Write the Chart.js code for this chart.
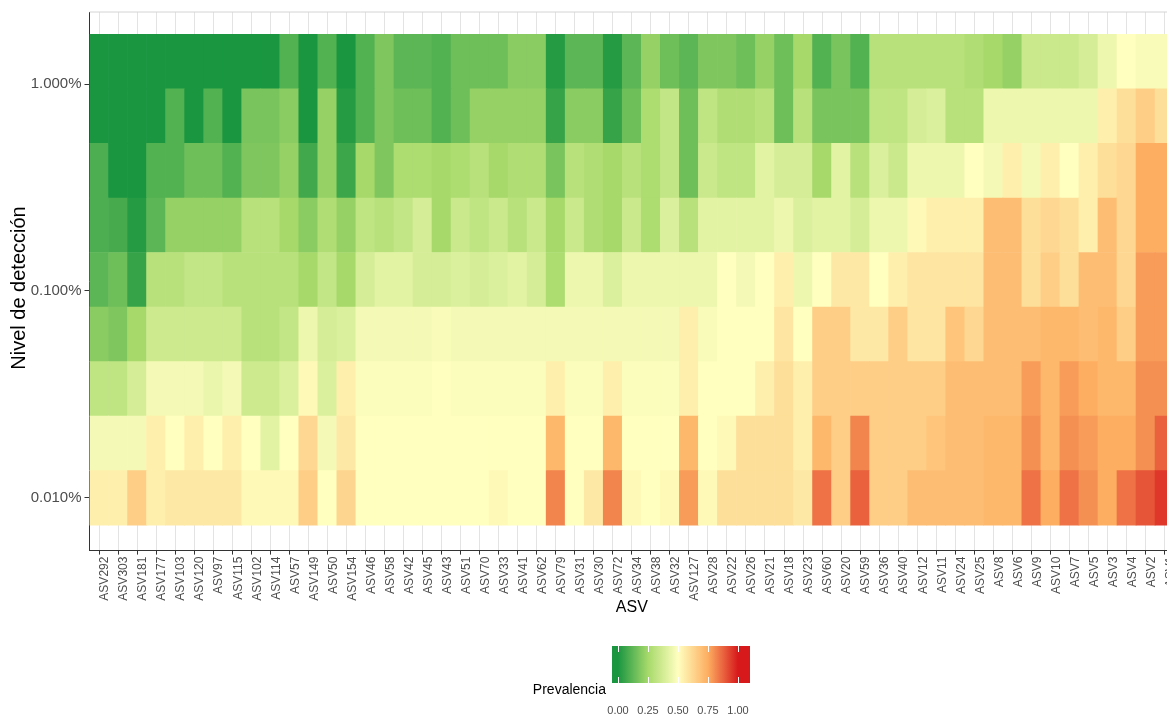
<!DOCTYPE html>
<html>
<head>
<meta charset="utf-8">
<script src="https://cdn.jsdelivr.net/npm/chart.js@4.4.1/dist/chart.umd.min.js"></script>
<style>
  html, body { margin: 0; padding: 0; background: #ffffff; overflow: hidden; }
  #wrap { width: 1181px; height: 719px; }
</style>
</head>
<body>
<div id="wrap"><canvas id="core" width="1181" height="719"></canvas></div>
<script>
// ASVs along the x axis
const asvLabels = [
  'ASV292','ASV303','ASV181','ASV177','ASV103','ASV120','ASV97','ASV115','ASV102','ASV114',
  'ASV57','ASV149','ASV50','ASV154','ASV46','ASV58','ASV42','ASV45','ASV43','ASV51',
  'ASV70','ASV33','ASV41','ASV62','ASV79','ASV31','ASV30','ASV72','ASV34','ASV38',
  'ASV32','ASV127','ASV28','ASV22','ASV26','ASV21','ASV18','ASV23','ASV60','ASV20',
  'ASV59','ASV36','ASV40','ASV12','ASV11','ASV24','ASV25','ASV8','ASV6','ASV9',
  'ASV10','ASV7','ASV5','ASV3','ASV4','ASV2','ASV1'
];

// Detection thresholds (relative abundance), lowest first
const detectionLevels = [0.0001, 0.0001835, 0.0003366, 0.0006176, 0.001133, 0.002079, 0.003814, 0.006998, 0.01284];

// Prevalence of each ASV at each detection threshold
const prevAt0 = [
  0.55,0.55,0.65,0.55,0.57,0.57,0.57,0.57,0.52,0.52,
  0.52,0.65,0.50,0.63,0.50,0.50,0.50,0.50,0.50,0.50,
  0.50,0.52,0.50,0.50,0.82,0.50,0.57,0.82,0.52,0.50,
  0.52,0.78,0.52,0.60,0.60,0.60,0.60,0.57,0.85,0.65,
  0.88,0.65,0.65,0.70,0.70,0.70,0.70,0.72,0.72,0.85,
  0.75,0.85,0.80,0.75,0.85,0.90,0.95
];
const prevAt1 = [
  0.47,0.47,0.47,0.55,0.50,0.55,0.50,0.55,0.50,0.42,
  0.50,0.62,0.47,0.57,0.50,0.50,0.50,0.50,0.50,0.50,
  0.50,0.50,0.50,0.50,0.72,0.50,0.50,0.72,0.50,0.50,
  0.50,0.72,0.50,0.52,0.60,0.60,0.60,0.55,0.72,0.65,
  0.82,0.65,0.65,0.65,0.68,0.70,0.70,0.72,0.72,0.80,
  0.72,0.80,0.78,0.75,0.75,0.80,0.88
];
const prevAt2 = [
  0.32,0.32,0.38,0.47,0.47,0.47,0.44,0.47,0.36,0.36,
  0.40,0.52,0.40,0.55,0.49,0.49,0.49,0.49,0.50,0.49,
  0.49,0.49,0.49,0.49,0.55,0.49,0.49,0.55,0.49,0.49,
  0.49,0.55,0.50,0.50,0.50,0.55,0.60,0.55,0.65,0.65,
  0.65,0.65,0.65,0.65,0.65,0.70,0.70,0.70,0.70,0.78,
  0.72,0.78,0.75,0.72,0.72,0.80,0.80
];
const prevAt3 = [
  0.20,0.18,0.25,0.36,0.36,0.36,0.36,0.36,0.30,0.30,
  0.33,0.45,0.38,0.40,0.47,0.47,0.47,0.47,0.48,0.47,
  0.47,0.47,0.47,0.47,0.47,0.47,0.47,0.47,0.47,0.47,
  0.47,0.55,0.48,0.50,0.50,0.50,0.58,0.50,0.65,0.65,
  0.57,0.57,0.65,0.58,0.58,0.68,0.62,0.70,0.70,0.70,
  0.72,0.72,0.70,0.72,0.65,0.78,0.78
];
const prevAt4 = [
  0.12,0.15,0.05,0.30,0.30,0.33,0.33,0.30,0.30,0.30,
  0.30,0.25,0.33,0.25,0.38,0.42,0.42,0.38,0.38,0.40,
  0.38,0.40,0.42,0.38,0.27,0.45,0.45,0.40,0.45,0.45,
  0.45,0.45,0.45,0.50,0.47,0.50,0.55,0.45,0.50,0.57,
  0.57,0.50,0.55,0.58,0.58,0.58,0.58,0.70,0.70,0.60,
  0.65,0.60,0.70,0.70,0.62,0.78,0.78
];
const prevAt5 = [
  0.09,0.08,0.02,0.12,0.22,0.22,0.22,0.22,0.30,0.30,
  0.25,0.20,0.28,0.22,0.32,0.30,0.33,0.38,0.25,0.35,
  0.32,0.35,0.30,0.35,0.25,0.35,0.28,0.25,0.35,0.27,
  0.40,0.30,0.42,0.42,0.42,0.42,0.45,0.40,0.42,0.42,
  0.38,0.45,0.45,0.52,0.55,0.55,0.55,0.70,0.70,0.60,
  0.62,0.60,0.55,0.70,0.62,0.75,0.75
];
const prevAt6 = [
  0.09,0.00,0.00,0.10,0.10,0.15,0.15,0.10,0.18,0.18,
  0.22,0.07,0.22,0.06,0.25,0.18,0.27,0.27,0.25,0.27,
  0.30,0.25,0.28,0.28,0.17,0.30,0.28,0.25,0.30,0.27,
  0.33,0.15,0.35,0.32,0.32,0.42,0.38,0.38,0.25,0.42,
  0.30,0.40,0.35,0.45,0.45,0.45,0.50,0.47,0.55,0.47,
  0.55,0.50,0.55,0.60,0.62,0.75,0.75
];
const prevAt7 = [
  0.00,0.00,0.00,0.00,0.10,0.00,0.10,0.00,0.17,0.17,
  0.20,0.00,0.22,0.02,0.10,0.18,0.15,0.15,0.10,0.15,
  0.22,0.22,0.22,0.22,0.05,0.20,0.20,0.05,0.15,0.27,
  0.33,0.15,0.32,0.28,0.28,0.30,0.15,0.30,0.17,0.17,
  0.17,0.32,0.32,0.38,0.40,0.30,0.30,0.45,0.45,0.45,
  0.45,0.45,0.45,0.55,0.60,0.65,0.60
];
const prevAt8 = [
  0.00,0.00,0.00,0.00,0.00,0.00,0.00,0.00,0.00,0.00,
  0.10,0.00,0.10,0.00,0.10,0.18,0.12,0.12,0.10,0.15,
  0.15,0.15,0.20,0.20,0.02,0.12,0.12,0.02,0.12,0.22,
  0.15,0.12,0.18,0.18,0.15,0.22,0.15,0.25,0.10,0.17,
  0.10,0.30,0.30,0.30,0.30,0.30,0.28,0.25,0.22,0.35,
  0.35,0.35,0.38,0.45,0.50,0.48,0.48
];
const prevalenceByLevel = [prevAt0, prevAt1, prevAt2, prevAt3, prevAt4, prevAt5, prevAt6, prevAt7, prevAt8];

// Axis breaks and colour bar
const yTickValues = [0.0001, 0.001, 0.01];
const legendBreaks = [0, 0.25, 0.5, 0.75, 1];
const legendLabels = ['0.00', '0.25', '0.50', '0.75', '1.00'];
const paletteStops = ['#1a9641', '#a6d96a', '#ffffbf', '#fdae61', '#d7191c'];

function hexToRgb(h) {
  const n = parseInt(h.slice(1), 16);
  return [(n >> 16) & 255, (n >> 8) & 255, n & 255];
}
const stopRgb = paletteStops.map(hexToRgb);
function prevalenceColor(p) {
  const v = Math.max(0, Math.min(1, p)) * (stopRgb.length - 1);
  const i = Math.min(Math.floor(v), stopRgb.length - 2);
  const t = v - i;
  const a = stopRgb[i], b = stopRgb[i + 1];
  const c = a.map((x, k) => Math.round(x + (b[k] - x) * t));
  return `rgb(${c[0]},${c[1]},${c[2]})`;
}

// Tile edges: geometric midpoints between neighbouring thresholds
const logLv = detectionLevels.map(Math.log10);
function tileEdges(k) {
  const n = logLv.length;
  const lowGap = k > 0 ? logLv[k] - logLv[k - 1] : logLv[1] - logLv[0];
  const highGap = k < n - 1 ? logLv[k + 1] - logLv[k] : logLv[n - 1] - logLv[n - 2];
  return [Math.pow(10, logLv[k] - lowGap / 2), Math.pow(10, logLv[k] + highGap / 2)];
}

const datasets = detectionLevels.map((lvl, k) => {
  const edges = tileEdges(k);
  return {
    label: String(lvl),
    data: asvLabels.map(() => edges),
    backgroundColor: prevalenceByLevel[k].map(prevalenceColor),
    borderWidth: 0,
    grouped: false,
    barPercentage: 1,
    categoryPercentage: 1
  };
});

const FONT = "'Liberation Sans', Arial, Helvetica, sans-serif";

// Colour-bar legend, y title and the light top border of the panel
const decorPlugin = {
  id: 'decor',
  afterDraw(chart) {
    const ctx = chart.ctx;
    const area = chart.chartArea;
    ctx.save();
    ctx.strokeStyle = '#d4d4d4';
    ctx.lineWidth = 1;
    ctx.beginPath();
    ctx.moveTo(area.left, area.top);
    ctx.lineTo(area.right, area.top);
    ctx.stroke();

    // y axis title
    ctx.save();
    ctx.translate(19, 288);
    ctx.rotate(-Math.PI / 2);
    ctx.fillStyle = '#000000';
    ctx.font = `20px ${FONT}`;
    ctx.textAlign = 'center';
    ctx.textBaseline = 'middle';
    ctx.fillText('Nivel de detección', 0, 0);
    ctx.restore();

    const barL = 612, barR = 750, barT = 646, barB = 683;
    const v0 = 618, v1 = 738;
    const grad = ctx.createLinearGradient(v0, 0, v1, 0);
    for (let s = 0; s <= 40; s++) {
      grad.addColorStop(s / 40, prevalenceColor(s / 40));
    }
    ctx.fillStyle = grad;
    ctx.fillRect(barL, barT, barR - barL, barB - barT);

    ctx.strokeStyle = '#ffffff';
    ctx.lineWidth = 1;
    legendBreaks.forEach(b => {
      const x = Math.round(v0 + (v1 - v0) * b) + 0.5;
      ctx.beginPath();
      ctx.moveTo(x, barT); ctx.lineTo(x, barT + 6);
      ctx.moveTo(x, barB); ctx.lineTo(x, barB - 6);
      ctx.stroke();
    });

    ctx.fillStyle = '#000000';
    ctx.font = `14px ${FONT}`;
    ctx.textAlign = 'right';
    ctx.textBaseline = 'middle';
    ctx.fillText('Prevalencia', 606, 690);

    ctx.fillStyle = '#4d4d4d';
    ctx.font = `11px ${FONT}`;
    ctx.textAlign = 'center';
    ctx.textBaseline = 'middle';
    legendBreaks.forEach((b, i) => {
      ctx.fillText(legendLabels[i], v0 + (v1 - v0) * b, 711);
    });
    ctx.restore();
  }
};

new Chart(document.getElementById('core'), {
  type: 'bar',
  data: { labels: asvLabels, datasets },
  plugins: [decorPlugin],
  options: {
    responsive: false,
    animation: false,
    events: [],
    layout: { padding: { top: 10.5, left: 0, right: 2.8, bottom: 101.4 } },
    plugins: { legend: { display: false }, tooltip: { enabled: false } },
    scales: {
      x: {
        type: 'category',
        offset: true,
        afterFit(scale) { scale.height = 67; },
        grid: { offset: false, color: '#e3e3e3', lineWidth: 1, tickColor: '#333333', tickLength: 4, drawOnChartArea: true },
        border: { display: true, color: '#333333', width: 1 },
        ticks: {
          autoSkip: false, minRotation: 90, maxRotation: 90, padding: 2, labelOffset: 6,
          color: '#4d4d4d', font: { family: FONT, size: 12 }
        },
        title: { display: true, text: 'ASV', color: '#000000', font: { family: FONT, size: 16 }, padding: 0 }
      },
      y: {
        type: 'logarithmic',
        min: Math.pow(10, -4.2547),
        max: Math.pow(10, -1.6516),
        afterFit(scale) { scale.width = 89.5; },
        afterBuildTicks(scale) { scale.ticks = yTickValues.map(v => ({ value: v })); },
        grid: { drawOnChartArea: false, tickColor: '#333333', tickLength: 5 },
        border: { display: true, color: '#333333', width: 1 },
        ticks: {
          padding: 3, color: '#4d4d4d', font: { family: FONT, size: 15 },
          callback: v => (v * 100).toFixed(3) + '%'
        },
        title: { display: false }
      }
    }
  }
});
</script>
</body>
</html>
